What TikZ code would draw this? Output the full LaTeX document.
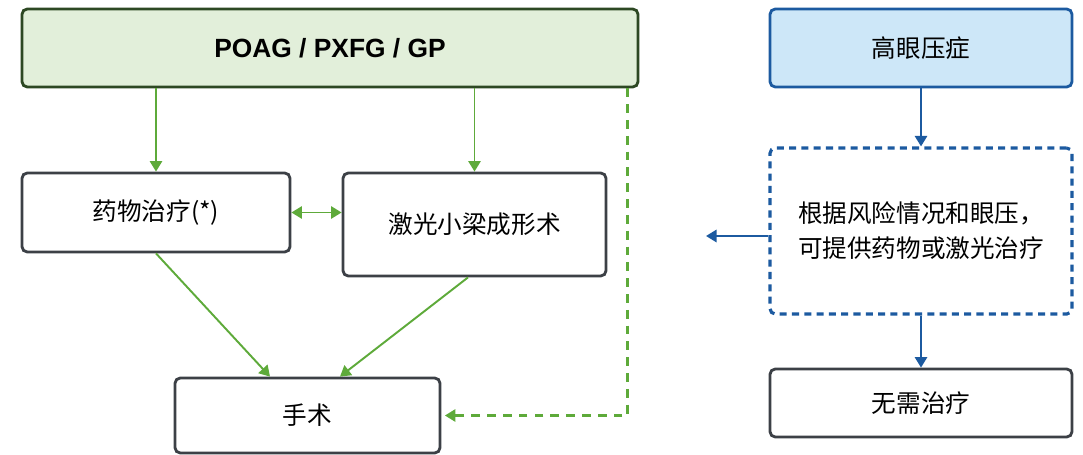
\documentclass[tikz,border=0pt]{standalone}
\usepackage{fontspec}
\setmainfont{Liberation Sans}
\newfontfamily\cjk{Noto Sans CJK SC}
\usetikzlibrary{arrows.meta}

\definecolor{lgreen}{RGB}{94,170,58}
\definecolor{fgreen}{RGB}{226,239,218}
\definecolor{dgreen}{RGB}{45,72,35}
\definecolor{lblue}{RGB}{205,231,248}
\definecolor{dblue}{RGB}{28,90,160}
\definecolor{bgray}{RGB}{60,64,70}

\tikzset{
  box/.style={rounded corners=3pt, draw=bgray, line width=1.6pt, fill=white,
              align=center, inner sep=0pt,
              font=\cjk\fontsize{14}{20}\selectfont},
  garrow/.style={draw=lgreen, line width=1.1pt, -{Triangle[width=7pt,length=6pt]}},
  barrow/.style={draw=dblue, line width=1.2pt, -{Triangle[width=7pt,length=6pt]}}
}

\begin{document}
\begin{tikzpicture}
        \useasboundingbox (0,0) rectangle (21.66,-9.1);

        % left column
        \node[box, fill=fgreen, draw=dgreen, minimum width=12.32cm, minimum height=1.56cm,
              font=\bfseries\fontsize{15}{18}\selectfont] (pg) at (6.60,-0.96) {POAG / PXFG / GP};
        \node[box, minimum width=5.36cm, minimum height=1.58cm] (drug) at (3.12,-4.25) {药物治疗(*)};
        \node[box, minimum width=5.26cm, minimum height=2.06cm] (laser) at (9.49,-4.49) {激光小梁成形术};
        \node[box, minimum width=5.30cm, minimum height=1.50cm] (surg) at (6.15,-8.31) {手术};

        \draw[garrow] (pg.south -| drug.north) -- (drug.north);
        \draw[garrow] (pg.south -| laser.north) -- (laser.north);
        \draw[garrow, {Triangle[width=7pt,length=6pt]}-{Triangle[width=7pt,length=6pt]}] (drug.east) -- (drug.east -| laser.west);
        \draw[garrow] (drug.south) -- ([xshift=-0.75cm]surg.north);
        \draw[garrow] ([xshift=-0.13cm]laser.south) -- ([xshift=0.65cm]surg.north);
        \draw[garrow, line width=1.3pt, dash pattern=on 5pt off 4pt, shorten >=2pt] ([xshift=-0.24cm]pg.south east) |- (surg.east);

        % right column
        \node[box, fill=lblue, draw=dblue, minimum width=6.04cm, minimum height=1.56cm] (oht) at (18.42,-0.96) {高眼压症};
        \node[box, draw=dblue, line width=1.8pt, dash pattern=on 4pt off 3pt, minimum width=6.04cm,
              minimum height=3.32cm] (risk) at (18.42,-4.62) {根据风险情况和眼压，\\可提供药物或激光治疗};
        \node[box, minimum width=6.04cm, minimum height=1.36cm] (none) at (18.42,-8.06) {无需治疗};
        \coordinate (riskout) at (14.12,-4.72);

        \draw[barrow] (risk.west |- riskout) -- (riskout);
        \draw[barrow] (oht.south) -- (risk.north);
        \draw[barrow] (risk.south) -- (none.north);
\end{tikzpicture}
\end{document}
